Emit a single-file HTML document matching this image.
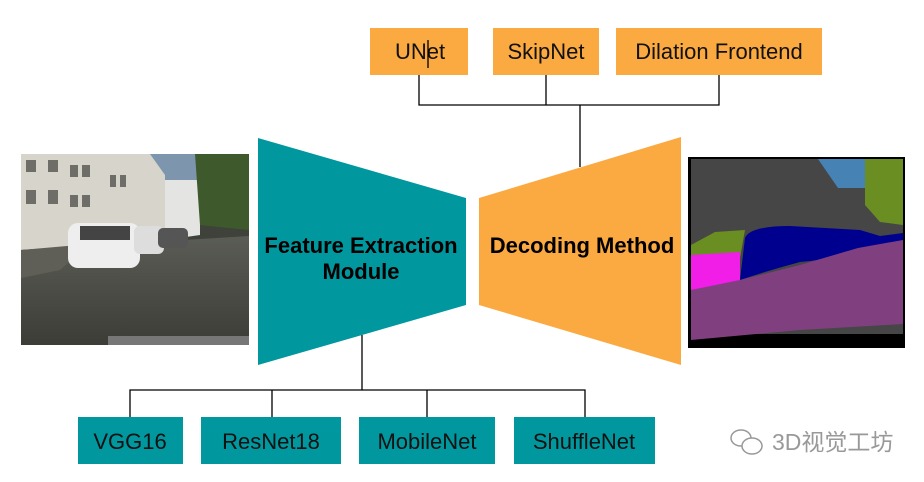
<!DOCTYPE html>
<html><head><meta charset="utf-8"><style>
html,body{margin:0;padding:0;background:#fff;}
body{width:924px;height:482px;overflow:hidden;position:relative;font-family:"Liberation Sans",Arial,sans-serif;}
</style></head><body>
<svg width="924" height="482" viewBox="0 0 924 482" xmlns="http://www.w3.org/2000/svg" style="position:absolute;left:0;top:0">
<defs>
<linearGradient id="road" x1="0" y1="0" x2="0" y2="1"><stop offset="0" stop-color="#5a5c55"/><stop offset="1" stop-color="#3b3d36"/></linearGradient>
</defs>
<g>
<rect x="21" y="154" width="228" height="191" fill="#3f423b"/>
<rect x="150" y="154" width="99" height="40" fill="#7d96ad"/>
<polygon points="21,154 150,154 165,175 165,240 21,250" fill="#d6d4cb"/>
<polygon points="165,180 200,180 200,235 165,240" fill="#e4e4e2"/>
<polygon points="195,154 249,154 249,230 200,225" fill="#3e5a2c"/>
<g fill="#6f6d68">
<rect x="26" y="160" width="10" height="12"/><rect x="48" y="160" width="10" height="12"/><rect x="70" y="165" width="8" height="12"/><rect x="82" y="165" width="8" height="12"/>
<rect x="26" y="190" width="10" height="14"/><rect x="48" y="190" width="10" height="14"/><rect x="70" y="195" width="8" height="12"/><rect x="82" y="195" width="8" height="12"/>
<rect x="110" y="175" width="6" height="12"/><rect x="120" y="175" width="6" height="12"/>
</g>
<polygon points="21,250 249,236 249,345 21,345" fill="url(#road)"/>
<polygon points="21,250 90,244 60,270 21,278" fill="#5f5f57"/>
<rect x="68" y="223" width="72" height="45" rx="10" fill="#eeeeee"/>
<rect x="80" y="226" width="50" height="14" fill="#444"/>
<rect x="134" y="226" width="30" height="28" rx="6" fill="#dddddd"/>
<rect x="158" y="228" width="30" height="20" rx="5" fill="#555"/>
<rect x="108" y="336" width="141" height="9" fill="#777"/>
</g>
<g>
<rect x="688" y="157" width="217" height="191" fill="#000"/>
<rect x="691" y="159" width="212" height="175" fill="#464646"/>
<polygon points="818,159 865,159 865,188 838,188" fill="#4682b4"/>
<polygon points="865,159 903,159 903,225 880,222 865,205" fill="#6b8e23"/>
<polygon points="691,245 715,232 745,230 740,258 691,260" fill="#6b8e23"/>
<polygon points="691,255 740,252 740,282 691,290" fill="#f01ee6"/>
<path d="M745,238 Q750,226 790,226 L860,230 L880,236 L903,233 L903,248 L860,248 Q830,260 800,262 Q770,270 740,280 Z" fill="#00008e"/>
<polygon points="691,290 740,280 800,265 858,248 903,240 903,324 800,330 691,340" fill="#804080"/>
</g>
<polygon points="258,138 466,198 466,305 258,365" fill="#00979f"/>
<polygon points="479,198 681,137 681,365 479,305" fill="#fba941"/>
<g font-family="Liberation Sans,Arial,sans-serif" font-weight="bold" font-size="22" fill="#000" text-anchor="middle">
<text x="361" y="253">Feature Extraction</text>
<text x="361" y="279">Module</text>
<text x="582" y="253">Decoding Method</text>
</g>
<g stroke="#000" stroke-width="1.3" fill="none">
<path d="M419,75 V105 H719 V75 M546,75 V105 M580,105 V167"/>
<path d="M130,417 V390 H585 V417 M272,390 V417 M427,390 V417 M362,335 V390"/>
</g>
<g font-family="Liberation Sans,Arial,sans-serif" font-size="22" fill="#111" text-anchor="middle">
<rect x="370" y="28" width="98" height="47" fill="#fba941"/><text x="420" y="59">UNet</text>
<line x1="428" y1="40" x2="428" y2="68" stroke="#000" stroke-width="1.3"/>
<rect x="493" y="28" width="106" height="47" fill="#fba941"/><text x="546" y="59">SkipNet</text>
<rect x="616" y="28" width="206" height="47" fill="#fba941"/><text x="719" y="59">Dilation Frontend</text>
<rect x="78" y="417" width="105" height="47" fill="#00979f"/><text x="130" y="449">VGG16</text>
<rect x="201" y="417" width="140" height="47" fill="#00979f"/><text x="271" y="449">ResNet18</text>
<rect x="359" y="417" width="136" height="47" fill="#00979f"/><text x="427" y="449">MobileNet</text>
<rect x="514" y="417" width="141" height="47" fill="#00979f"/><text x="584" y="449">ShuffleNet</text>
</g>
<g stroke="#999" stroke-width="1.5" fill="#fff">
<ellipse cx="741" cy="438" rx="10" ry="8"/>
<ellipse cx="752" cy="446" rx="10" ry="8"/>
</g>
<text x="772" y="450" font-family="Liberation Sans,'Noto Sans CJK SC',sans-serif" font-size="23" fill="#999">3D视觉工坊</text>
</svg>
</body></html>
